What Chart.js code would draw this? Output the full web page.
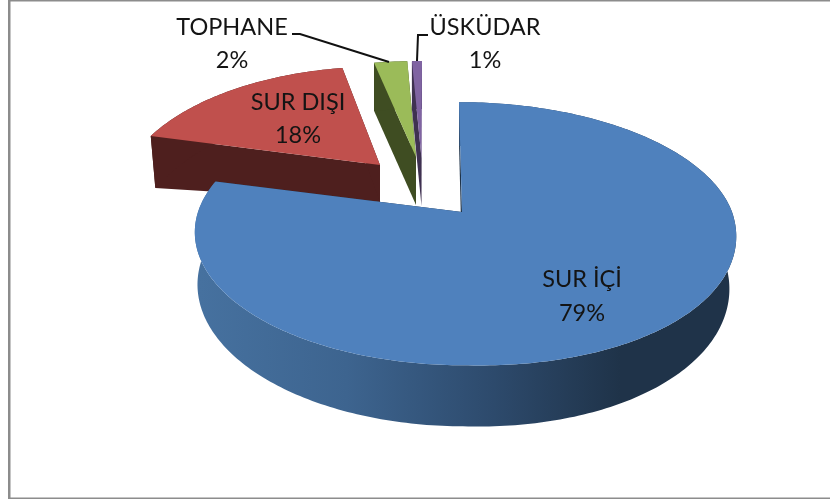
<!DOCTYPE html>
<html><head><meta charset="utf-8">
<script src="https://cdn.jsdelivr.net/npm/chart.js@4"></script>
<style>html,body{margin:0;padding:0;background:#fff}canvas{display:block}</style>
</head><body>
<canvas id="c" width="830" height="501"></canvas>
<script>
const categories = ['SUR İÇİ', 'SUR DIŞI', 'TOPHANE', 'ÜSKÜDAR'];
const values = [79, 18, 2, 1];
const faceColors = ['#4f81bd', '#c0504d', '#9bbb59', '#8064a2'];
const wallColors = ['#1f3349', '#4e1f1e', '#3f4d22', '#3f3151'];

// per-slice view of the tilted disc: pivot, radii, tilt, perspective, wall depth
const views = [
  {cx:462, cy:212, rL:264, rR:270, k:128, p:.165, sx:3,  d0:51, du:0,  bsL:.99, bsR:.975, tyR:8},
  {cx:380, cy:165, rL:252, rR:252, k:124, p:.26,  sx:0,  d0:37, du:19, bsL:.98, bsR:.98,  tyR:0},
  {cx:416, cy:157, rL:266, rR:266, k:96,  p:0,    sx:-8, d0:48, du:0,  bsL:1,   bsR:1,    tyR:0},
  {cx:421.5,cy:158,rL:160, rR:160, k:97,  p:0,    sx:-.5,d0:48, du:0,  bsL:1,   bsR:1,    tyR:0}
];
const drawOrder = [1, 2, 3, 0];
const labelSpots = [
  {x:582, y:279, dy:34}, {x:298, y:102, dy:33}, {x:232, y:27, dy:33}, {x:485, y:27, dy:33}
];
const leaders = [
  null, null,
  [[292,34],[300,34],[389,62]],
  [[428,35],[418,35],[417,61]]
];

function rimTop(v, th){
  const u = Math.sin(th), w = -Math.cos(th), s = 1/(1 - v.p*w);
  const tilt = u>0 ? v.tyR*u*Math.max(0,w) : 0;
  return {x: v.cx + (u<0?v.rL:v.rR)*u*s + v.sx*w, y: v.cy + v.k*w*s + tilt, u, s};
}
function rimBottom(v, th){
  const q = rimTop(v, th);
  return {x: v.cx + (q.x - v.cx)*(q.u<0?v.bsL:v.bsR), y: q.y + (v.d0 + v.du*Math.abs(q.u))*q.s};
}
function poly(ctx, list, fill){
  ctx.beginPath();
  list.forEach((q,j)=> j?ctx.lineTo(q.x,q.y):ctx.moveTo(q.x,q.y));
  ctx.closePath(); ctx.fillStyle = fill; ctx.fill();
}

const pie3d = {
  id:'pie3d',
  beforeDatasetDraw(chart){
    const ctx = chart.ctx, arcs = chart.getDatasetMeta(0).data;
    const blueWall = ctx.createLinearGradient(200,0,620,0);
    blueWall.addColorStop(0,'#46719f'); blueWall.addColorStop(.35,'#3d648f');
    blueWall.addColorStop(.7,'#2d4a6c'); blueWall.addColorStop(1,'#1f3349');
    for (const i of drawOrder){
      const v = views[i], a = arcs[i];
      const t0 = a.startAngle + Math.PI/2, t1 = a.endAngle + Math.PI/2;
      const n = Math.max(4, Math.ceil((t1-t0)*60)), pts = [];
      for (let j=0;j<=n;j++) pts.push(t0 + (t1-t0)*j/n);
      const piv = {x:v.cx, y:v.cy}, pivB = {x:v.cx, y:v.cy + v.d0};
      poly(ctx, [piv, rimTop(v,t0), rimBottom(v,t0), pivB], wallColors[i]);
      poly(ctx, [piv, rimTop(v,t1), rimBottom(v,t1), pivB], wallColors[i]);
      poly(ctx, pts.map(t=>rimTop(v,t)).concat(pts.slice().reverse().map(t=>rimBottom(v,t))),
           i===0 ? blueWall : wallColors[i]);
      poly(ctx, [piv].concat(pts.map(t=>rimTop(v,t))), a.options.backgroundColor);
    }
    return false;
  },
  afterDraw(chart){
    const ctx = chart.ctx;
    ctx.fillStyle = '#8c8c8c';
    ctx.fillRect(8,0,822,1.5); ctx.fillRect(8,0,2.5,499); ctx.fillRect(8,497.5,822,1.5);
    ctx.strokeStyle = '#111'; ctx.lineWidth = 2;
    for (const l of leaders){ if(!l) continue;
      ctx.beginPath(); l.forEach((p,j)=> j?ctx.lineTo(p[0],p[1]):ctx.moveTo(p[0],p[1])); ctx.stroke(); }
    ctx.fillStyle = '#141414'; ctx.textAlign='center'; ctx.textBaseline='middle';
    ctx.font = '23.5px Lato';
    categories.forEach((c,i)=>{ const s = labelSpots[i];
      ctx.fillText(c, s.x, s.y); ctx.fillText(values[i]+'%', s.x, s.y+s.dy); });
  }
};
new Chart(document.getElementById('c'), {
  type:'pie',
  data:{labels:categories, datasets:[{data:values, backgroundColor:faceColors, borderWidth:0}]},
  options:{responsive:false, animation:false, rotation:0,
    plugins:{legend:{display:false}, tooltip:{enabled:false}}},
  plugins:[pie3d]
});
</script>
</body></html>
